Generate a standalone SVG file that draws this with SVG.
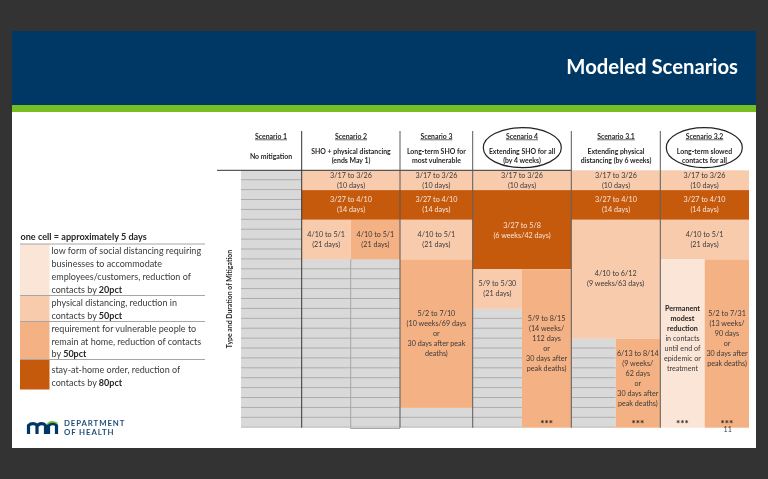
<svg xmlns="http://www.w3.org/2000/svg" width="768" height="479" viewBox="0 0 768 479">
<style>
text{font-family:Lato,"Noto Sans","Liberation Sans",sans-serif;fill:#3a3a3a}
.c{font-size:7.2px;text-anchor:middle}
.w{fill:#f8e4d6}
.b{font-weight:700;fill:#262626}
.s{font-size:10px;font-weight:700;text-anchor:middle;fill:#262626}
.h{font-size:6.9px;font-weight:700;text-anchor:middle;fill:#262626}
.u{text-decoration:underline}
.l{font-size:9px}
.lt{fill:#f8cbad}.dk{fill:#c55a11}.md{fill:#f4b183}.xl{fill:#fbe5d6}
.v{stroke:#595959;stroke-width:1;fill:none}
.k{stroke:#333;stroke-width:1;fill:none}
.lg{stroke:#a6a6a6;stroke-width:1;fill:none}
.e{fill:none;stroke:#222;stroke-width:1.2}
</style>
<defs>
<pattern id="rows" patternUnits="userSpaceOnUse" x="0" y="170.3" width="20" height="9.9">
<rect width="20" height="9.9" fill="#d9d9d9"/>
<rect y="9" width="20" height="1" fill="#a9a9a9"/>
</pattern>
<filter id="soft" x="0" y="0" width="100%" height="100%"><feGaussianBlur stdDeviation="0.35"/></filter>
</defs>
<rect width="768" height="479" fill="#333"/>
<g filter="url(#soft)">
<g id="slide">
<rect x="12" y="31" width="744" height="417" fill="#fff"/>
<rect x="12" y="31" width="744" height="74.500" fill="#003865"/>
<rect x="12" y="105" width="744" height="7" fill="#78be20"/>
<text x="738" y="74" text-anchor="end" font-size="20.300" font-weight="700" style="fill:#fff">Modeled Scenarios</text>
</g>
<g id="grey-cells">
<rect x="241" y="170.3" width="60.700" height="257.400" fill="url(#rows)"/>
<rect x="301.700" y="259.400" width="98.300" height="168.300" fill="url(#rows)"/>
<rect x="400" y="407.900" width="72.700" height="19.800" fill="url(#rows)"/>
<rect x="472.700" y="308.900" width="49.300" height="118.800" fill="url(#rows)"/>
<rect x="571.300" y="338.600" width="44.400" height="89.100" fill="url(#rows)"/>
</g>
<g id="scenario-1">
<text class="h u" x="271" y="138.500">Scenario 1</text>
<text class="h" x="271" y="158.500">No mitigation</text>
</g>
<g id="scenario-2">
<rect class="lt" x="301.700" y="170.300" width="98.300" height="19.800"/>
<rect class="dk" x="301.700" y="190.100" width="98.300" height="29.700"/>
<rect class="lt" x="301.700" y="219.800" width="49" height="39.600"/>
<rect class="md" x="350.700" y="219.800" width="49.300" height="39.600"/>
<text class="h u" x="351" y="138.500">Scenario 2</text>
<text class="h" x="351" y="153.500">SHO + physical distancing</text>
<text class="h" x="351" y="163">(ends May 1)</text>
<text class="c" x="351" y="177.700">3/17 to 3/26</text><text class="c" x="351" y="187.700">(10 days)</text>
<text class="c w" x="351" y="202.400">3/27 to 4/10</text><text class="c w" x="351" y="212.400">(14 days)</text>
<text class="c" x="326.200" y="237">4/10 to 5/1</text><text class="c" x="326.200" y="247">(21 days)</text>
<text class="c" x="375.400" y="237">4/10 to 5/1</text><text class="c" x="375.400" y="247">(21 days)</text>
</g>
<g id="scenario-3">
<rect class="lt" x="400" y="170.300" width="72.700" height="19.800"/>
<rect class="dk" x="400" y="190.100" width="72.700" height="29.700"/>
<rect class="lt" x="400" y="219.800" width="72.700" height="39.600"/>
<rect class="md" x="400" y="259.400" width="72.700" height="148.500"/>
<text class="h u" x="436.400" y="138.500">Scenario 3</text>
<text class="h" x="436.400" y="153.500">Long-term SHO for</text>
<text class="h" x="436.400" y="163">most vulnerable</text>
<text class="c" x="436.400" y="177.700">3/17 to 3/26</text><text class="c" x="436.400" y="187.700">(10 days)</text>
<text class="c w" x="436.400" y="202.400">3/27 to 4/10</text><text class="c w" x="436.400" y="212.400">(14 days)</text>
<text class="c" x="436.400" y="237">4/10 to 5/1</text><text class="c" x="436.400" y="247">(21 days)</text>
<text class="c" x="436.400" y="316">5/2 to 7/10</text><text class="c" x="436.400" y="326">(10 weeks/69 days</text><text class="c" x="436.400" y="336">or</text><text class="c" x="436.400" y="346">30 days after peak</text><text class="c" x="436.400" y="356">deaths)</text>
</g>
<g id="scenario-4">
<rect class="lt" x="472.700" y="170.300" width="98.600" height="19.800"/>
<rect class="dk" x="472.700" y="190.100" width="98.600" height="79.200"/>
<rect class="lt" x="472.700" y="269.300" width="49.300" height="39.600"/>
<rect class="md" x="522" y="269.300" width="49.300" height="158.400"/>
<text class="h u" x="522" y="138.500">Scenario 4</text>
<text class="h" x="522" y="153.500">Extending SHO for all</text>
<text class="h" x="522" y="163">(by 4 weeks)</text>
<text class="c" x="522" y="177.700">3/17 to 3/26</text><text class="c" x="522" y="187.700">(10 days)</text>
<text class="c w" x="522" y="227.700">3/27 to 5/8</text><text class="c w" x="522" y="237.700">(6 weeks/42 days)</text>
<text class="c" x="497.400" y="286.400">5/9 to 5/30</text><text class="c" x="497.400" y="296.400">(21 days)</text>
<text class="c" x="546.600" y="321">5/9 to 8/15</text><text class="c" x="546.600" y="331">(14 weeks/</text><text class="c" x="546.600" y="341">112 days</text><text class="c" x="546.600" y="351">or</text><text class="c" x="546.600" y="361">30 days after</text><text class="c" x="546.600" y="371">peak deaths)</text>
<text class="s" x="546.600" y="427">***</text>
<ellipse class="e" cx="522.300" cy="147.700" rx="39" ry="20"/>
</g>
<g id="scenario-3-1">
<rect class="lt" x="571.300" y="170.300" width="89" height="19.800"/>
<rect class="dk" x="571.300" y="190.100" width="89" height="29.700"/>
<rect class="lt" x="571.300" y="219.800" width="89" height="118.800"/>
<rect class="md" x="615.700" y="338.600" width="44.600" height="89.100"/>
<text class="h u" x="616" y="138.500">Scenario 3.1</text>
<text class="h" x="616" y="153.500">Extending physical</text>
<text class="h" x="616" y="163">distancing (by 6 weeks)</text>
<text class="c" x="616" y="177.700">3/17 to 3/26</text><text class="c" x="616" y="187.700">(10 days)</text>
<text class="c w" x="616" y="202.400">3/27 to 4/10</text><text class="c w" x="616" y="212.400">(14 days)</text>
<text class="c" x="615.700" y="276.400">4/10 to 6/12</text><text class="c" x="615.700" y="286.400">(9 weeks/63 days)</text>
<text class="c" x="637.800" y="356">6/13 to 8/14</text><text class="c" x="637.800" y="366">(9 weeks/</text><text class="c" x="637.800" y="376">62 days</text><text class="c" x="637.800" y="386">or</text><text class="c" x="637.800" y="396">30 days after</text><text class="c" x="637.800" y="406">peak deaths)</text>
<text class="s" x="637.800" y="427">***</text>
</g>
<g id="scenario-3-2">
<rect class="lt" x="660.300" y="170.300" width="88.700" height="19.800"/>
<rect class="dk" x="660.300" y="190.100" width="88.700" height="29.700"/>
<rect class="lt" x="660.300" y="219.800" width="88.700" height="39.600"/>
<rect class="xl" x="660.300" y="259.400" width="44.400" height="168.300"/>
<rect class="md" x="704.700" y="259.400" width="44.300" height="168.300"/>
<text class="h u" x="704.500" y="138.500">Scenario 3.2</text>
<text class="h" x="704.500" y="153.500">Long-term slowed</text>
<text class="h" x="704.500" y="163">contacts for all</text>
<text class="c" x="704.500" y="177.700">3/17 to 3/26</text><text class="c" x="704.500" y="187.700">(10 days)</text>
<text class="c w" x="704.500" y="202.400">3/27 to 4/10</text><text class="c w" x="704.500" y="212.400">(14 days)</text>
<text class="c" x="704.500" y="237">4/10 to 5/1</text><text class="c" x="704.500" y="247">(21 days)</text>
<text class="c b" x="682.500" y="311">Permanent</text><text class="c b" x="682.500" y="321">modest</text><text class="c b" x="682.500" y="331">reduction</text>
<text class="c" x="682.500" y="341">in contacts</text><text class="c" x="682.500" y="351">until end of</text><text class="c" x="682.500" y="361">epidemic or</text><text class="c" x="682.500" y="371">treatment</text>
<text class="s" x="682.500" y="427">***</text>
<text class="c" x="727" y="316">5/2 to 7/31</text><text class="c" x="727" y="326">(13 weeks/</text><text class="c" x="727" y="336">90 days</text><text class="c" x="727" y="346">or</text><text class="c" x="727" y="356">30 days after</text><text class="c" x="727" y="366">peak deaths)</text>
<text class="s" x="727" y="427">***</text>
<ellipse class="e" cx="704.300" cy="147.700" rx="38" ry="20"/>
</g>
<g id="connectors">
<path class="k" d="M217 170.300H571.300"/>
<path class="k" d="M301.700 131V427.700"/>
<path class="v" d="M400 131V427.700M472.700 131V427.700M571.300 131V427.700M660.300 131V427.700"/>
<path class="lg" d="M350.700 259.400V428.500H400"/>
</g>
<g id="axis-label">
<text class="h" transform="translate(231.500 299) rotate(-90)">Type and Duration of Mitigation</text>
</g>
<g id="legend">
<text x="20.500" y="240" font-size="9.100" font-weight="700" style="fill:#262626">one cell = approximately 5 days</text>
<rect class="xl" x="20" y="244" width="29.500" height="51.500"/>
<rect class="lt" x="20" y="295.500" width="29.500" height="26"/>
<rect class="md" x="20" y="321.500" width="29.500" height="38"/>
<rect class="dk" x="20" y="359.500" width="29.500" height="30"/>
<path class="lg" d="M20 244H205M20 295.500H205M20 321.500H205M20 359.500H205"/>
<text class="l" x="51.500" y="254.300">low form of social distancing requiring</text>
<text class="l" x="51.500" y="267">businesses to accommodate</text>
<text class="l" x="51.500" y="280">employees/customers, reduction of</text>
<text class="l" x="51.500" y="292.500">contacts by <tspan class="b">20pct</tspan></text>
<text class="l" x="51.500" y="306">physical distancing, reduction in</text>
<text class="l" x="51.500" y="318.700">contacts by <tspan class="b">50pct</tspan></text>
<text class="l" x="51.500" y="331.700">requirement for vulnerable people to</text>
<text class="l" x="51.500" y="344.500">remain at home, reduction of contacts</text>
<text class="l" x="51.500" y="357">by <tspan class="b">50pct</tspan></text>
<text class="l" x="51.500" y="373.300">stay-at-home order, reduction of</text>
<text class="l" x="51.500" y="386">contacts by <tspan class="b">80pct</tspan></text>
</g>
<g id="logo">
<path d="M28.500 434V425.500C31 422.800 35.500 423 37 425.500V434M37 426.500C39 422.800 44 423 45.500 425.500V434" fill="none" stroke="#003865" stroke-width="3.200"/>
<path d="M48.500 434V425.500C51 422.800 55 423 56.500 425.500V434" fill="none" stroke="#003865" stroke-width="3.200"/>
<path d="M47.500 424C50 421.500 54 421.500 57.500 423.500" fill="none" stroke="#78be20" stroke-width="1.600"/>
<text x="64" y="425.700" font-size="7.800" font-weight="700" letter-spacing="0.900" style="fill:#1f4e79">DEPARTMENT</text>
<text x="64" y="434.500" font-size="7.800" font-weight="700" letter-spacing="0.900" style="fill:#1f4e79">OF HEALTH</text>
</g>
<text class="c" x="727.700" y="432">11</text>
</g>
</svg>
